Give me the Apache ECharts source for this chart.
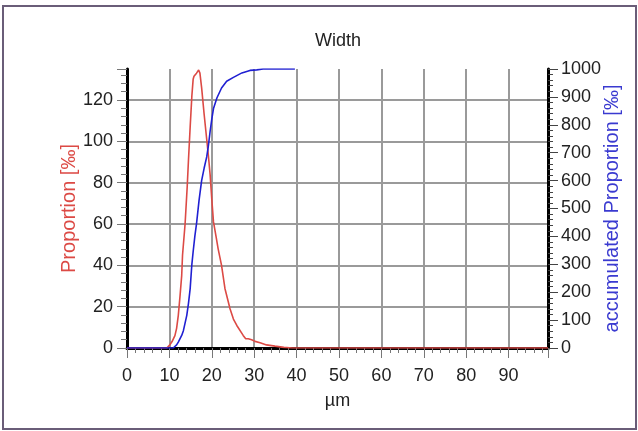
<!DOCTYPE html>
<html>
<head>
<meta charset="utf-8">
<script src="https://cdn.jsdelivr.net/npm/echarts@6/dist/echarts.min.js"></script>
<style>
  html, body { margin: 0; padding: 0; background: #fff; }
  #chart { width: 638px; height: 431px; }
</style>
</head>
<body>
<div id="chart"></div>
<script>
// Particle width distribution: per-class proportion and its running total (both in ‰)
const proportionWidth = [0, 9.4, 10.1, 10.6, 11.3, 11.7, 12.1, 12.5, 12.9, 13.1, 13.7, 14.2, 14.5, 14.9, 15.3, 15.6, 15.8, 16.4, 16.9, 17.2, 17.6, 18.2, 18.8, 19.2, 19.6, 20.0, 20.4, 21.0, 21.5, 21.9, 22.3, 23.1, 24.3, 25.1, 25.9, 27.4, 28.0, 28.6, 29.4, 30.2, 31.4, 32.9, 34.9, 37.0, 39.0, 99.3];
const proportion = [0, 0, 1.5, 3, 6, 9.5, 15.8, 25, 35, 45, 60, 78, 91, 107, 122, 130, 131.5, 133, 134.5, 133, 126, 113, 101, 93, 84, 72, 61, 54, 48, 44, 40, 28.8, 19, 14, 10.9, 6.1, 4.5, 4.5, 4, 3.2, 2.5, 1.5, 0.9, 0.3, 0, 0];

const cumulativeWidth = [0, 10.9, 11.7, 12.1, 12.9, 13.3, 14.1, 14.5, 14.9, 15.3, 15.6, 16.0, 16.4, 17.0, 17.6, 18.2, 18.8, 19.2, 19.6, 20.0, 20.4, 21.2, 22.3, 23.5, 25.1, 27.1, 29.0, 30.6, 32.1, 39.6];
const accumulated = [0, 0, 11, 21, 45, 62, 117, 160, 213, 300, 345, 400, 446, 530, 600, 645, 685, 725, 776, 820, 858, 896, 932, 956, 970, 986, 995, 997, 1000, 1000];

const chartTitle = 'Width';
const xAxisName = 'µm';
const leftAxisName = 'Proportion [‰]';
const rightAxisName = 'accumulated Proportion [‰]';

const font = 'Liberation Sans, Arial, sans-serif';
const redLine = '#dc4a45';
const blueLine = '#2020d2';

const pairs = (xs, ys) => xs.map((x, i) => [x, ys[i]]);
const plain = (v) => String(v);

const chart = echarts.init(document.getElementById('chart'), null, { renderer: 'canvas' });

chart.setOption({
  backgroundColor: '#ffffff',
  animation: false,
  title: {
    text: chartTitle,
    left: 310,
    top: 27,
    textStyle: { fontFamily: font, fontSize: 18, fontWeight: 'normal', color: '#222' }
  },
  graphic: [{
    type: 'rect',
    shape: { x: 3, y: 6, width: 633, height: 423 },
    style: { fill: 'none', stroke: '#6a5d78', lineWidth: 2 },
    silent: true
  }],
  grid: { left: 127, right: 90, top: 69, bottom: 83, outerBoundsMode: 'none' },
  xAxis: {
    type: 'value',
    min: 0,
    max: 99.3,
    interval: 10,
    name: xAxisName,
    nameLocation: 'middle',
    nameGap: 44,
    nameMoveOverlap: false,
    nameTextStyle: { fontFamily: font, fontSize: 18, color: '#222' },
    axisLine: { show: true, onZero: false, lineStyle: { color: '#000', width: 3 } },
    axisTick: { show: true, length: 10, lineStyle: { color: '#777', width: 1 } },
    minorTick: { show: true, splitNumber: 5, length: 5, lineStyle: { color: '#777', width: 1 } },
    axisLabel: { showMaxLabel: false, margin: 19, fontFamily: font, fontSize: 18, color: '#222', formatter: plain },
    splitLine: { show: true, showMinLine: false, showMaxLine: false, lineStyle: { color: '#9a9a9a', width: 2 } }
  },
  yAxis: [{
    type: 'value',
    position: 'left',
    min: 0,
    max: 135,
    interval: 20,
    name: leftAxisName,
    nameLocation: 'middle',
    nameGap: 48,
    nameMoveOverlap: false,
    nameTextStyle: { fontFamily: font, fontSize: 20, color: '#dc4a45' },
    axisLine: { show: true, onZero: false, lineStyle: { color: '#000', width: 3 } },
    axisTick: { show: true, length: 10, lineStyle: { color: '#777', width: 1 } },
    minorTick: { show: true, splitNumber: 5, length: 6, lineStyle: { color: '#777', width: 1 } },
    axisLabel: { showMaxLabel: false, margin: 14, fontFamily: font, fontSize: 18, color: '#222', formatter: plain },
    splitLine: { show: true, showMinLine: false, showMaxLine: false, lineStyle: { color: '#9a9a9a', width: 2 } }
  }, {
    type: 'value',
    position: 'right',
    min: 0,
    max: 1000,
    interval: 100,
    name: rightAxisName,
    nameLocation: 'middle',
    nameGap: 54,
    nameRotate: 90,
    nameMoveOverlap: false,
    nameTextStyle: { fontFamily: font, fontSize: 20, color: '#3a3ad0' },
    axisLine: { show: true, onZero: false, lineStyle: { color: '#000', width: 3 } },
    axisTick: { show: true, length: 10, lineStyle: { color: '#444', width: 1 } },
    minorTick: { show: true, splitNumber: 5, length: 5, lineStyle: { color: '#444', width: 1 } },
    axisLabel: { margin: 13, fontFamily: font, fontSize: 18, color: '#222', formatter: plain },
    splitLine: { show: false }
  }],
  series: [{
    name: leftAxisName,
    type: 'line',
    yAxisIndex: 0,
    data: pairs(proportionWidth, proportion),
    showSymbol: false,
    symbol: 'none',
    lineStyle: { color: redLine, width: 1.6 },
    z: 3
  }, {
    name: rightAxisName,
    type: 'line',
    yAxisIndex: 1,
    data: pairs(cumulativeWidth, accumulated),
    showSymbol: false,
    symbol: 'none',
    lineStyle: { color: blueLine, width: 1.6 },
    z: 4
  }]
});
</script>
</body>
</html>
